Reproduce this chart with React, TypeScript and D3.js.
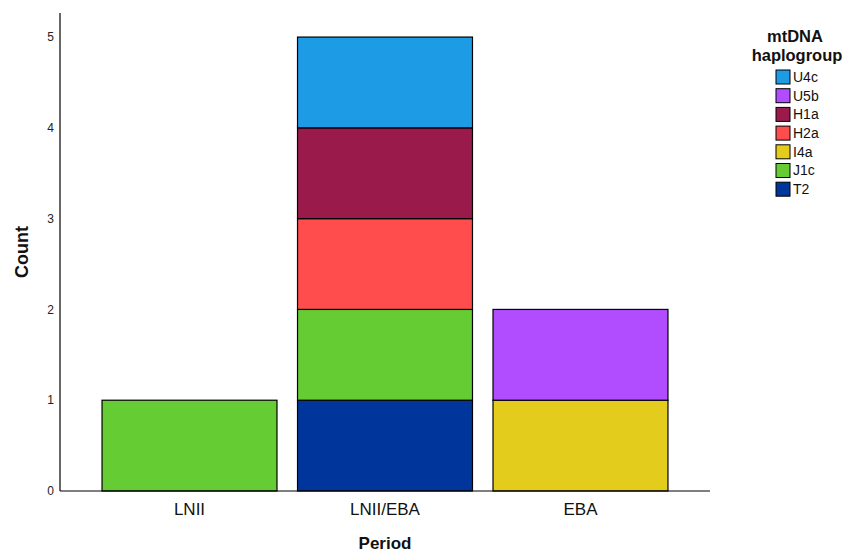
import React from "react";
import * as d3 from "d3";

const periods = ["LNII", "LNII/EBA", "EBA"];
const haplogroups = ["U4c", "U5b", "H1a", "H2a", "I4a", "J1c", "T2"];
const colors = ["#1e9be5", "#b14cff", "#9a1a4c", "#ff4d4d", "#e4cc1c", "#66cc33", "#00359c"];
// counts per period, in haplogroup order
const countsLNII = [0, 0, 0, 0, 0, 1, 0];
const countsLNIIEBA = [1, 0, 1, 1, 0, 1, 1];
const countsEBA = [0, 1, 0, 0, 1, 0, 0];
const yTicks = [0, 1, 2, 3, 4, 5];

const W = 859, H = 552;
const left = 60, right = 710, top = 13, bottom = 491;

export default function App() {
  const x = d3.scaleBand<string>().domain(periods).range([left, right]).paddingInner(0.105).paddingOuter(0.215);
  const y = d3.scaleLinear().domain([0, 5.265]).range([bottom, top]);
  const table = [countsLNII, countsLNIIEBA, countsEBA];
  const rows = periods.map((p, i) => {
    const r: any = { period: p };
    haplogroups.forEach((h, j) => (r[h] = table[i][j]));
    return r;
  });
  const stackOrder = haplogroups.slice().reverse();
  const series = d3.stack().keys(stackOrder)(rows);
  const colorOf = d3.scaleOrdinal<string, string>().domain(haplogroups).range(colors);
  const font = "'Liberation Sans', Arial, sans-serif";
  return (
    <svg width={W} height={H} style={{ position: "absolute", left: 0, top: 0, fontFamily: font }}>
      <rect width={W} height={H} fill="#fff" />
      {series.map((s) =>
        s.map((d, i) =>
          d[1] - d[0] > 0 ? (
            <rect key={s.key + i} x={x(periods[i])} y={y(d[1])} width={x.bandwidth()} height={y(d[0]) - y(d[1])}
              fill={colorOf(s.key)} stroke="#000" strokeWidth={1.2} />
          ) : null
        )
      )}
      <line x1={left} x2={left} y1={top} y2={bottom} stroke="#000" strokeWidth={1.2} />
      <line x1={left} x2={right} y1={bottom} y2={bottom} stroke="#000" strokeWidth={1.2} />
      {yTicks.map((t) => (
        <text key={t} x={54} y={y(t)} dy="0.35em" textAnchor="end" fontSize={12} fill="#222">{t}</text>
      ))}
      {periods.map((p) => (
        <text key={p} x={(x(p) as number) + x.bandwidth() / 2} y={509} dy="0.35em" textAnchor="middle" fontSize={17} fill="#111">{p}</text>
      ))}
      <text x={385} y={543} dy="0.35em" textAnchor="middle" fontSize={17} fontWeight="bold" fill="#111">Period</text>
      <text transform={`translate(22,252) rotate(-90)`} dy="0.35em" textAnchor="middle" fontSize={18} fontWeight="bold" fill="#111">Count</text>
      <text x={795} y={36} dy="0.35em" textAnchor="middle" fontSize={16.5} fontWeight="bold" fill="#111">mtDNA</text>
      <text x={797} y={55} dy="0.35em" textAnchor="middle" fontSize={16.5} fontWeight="bold" fill="#111">haplogroup</text>
      {haplogroups.map((h, i) => (
        <g key={h} transform={`translate(776,${77 + i * 18.7})`}>
          <rect x={0} y={-7} width={14} height={14} fill={colorOf(h)} stroke="#000" strokeWidth={1} />
          <text x={17} y={0} dy="0.35em" fontSize={14} fill="#111">{h}</text>
        </g>
      ))}
    </svg>
  );
}
